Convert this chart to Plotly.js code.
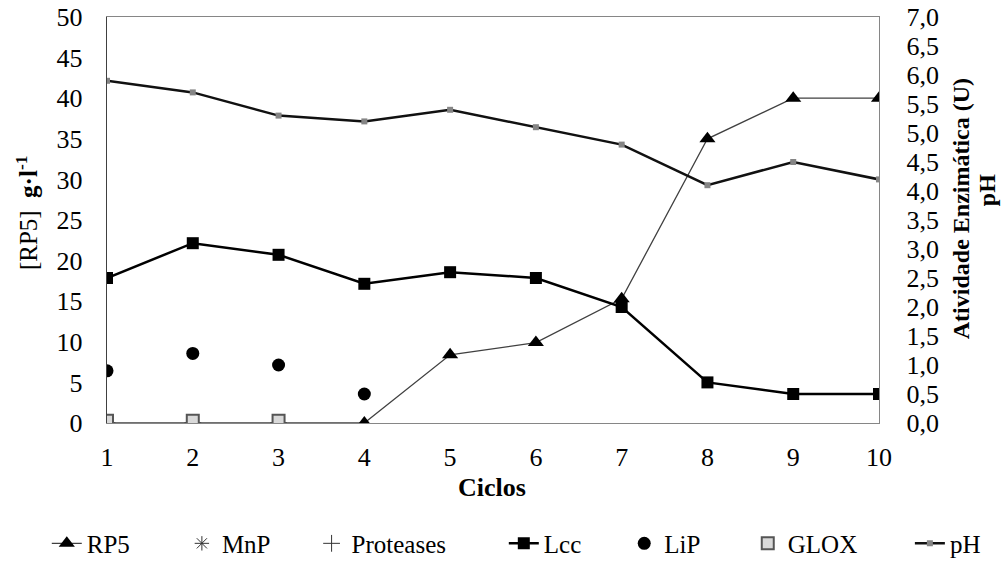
<!DOCTYPE html>
<html>
<head>
<meta charset="utf-8">
<script src="https://cdn.plot.ly/plotly-3.0.1.min.js"></script>
<style>html,body{margin:0;padding:0;background:#fff;}#chart{width:1005px;height:561px;}</style>
</head>
<body>
<div id="chart"></div>
<script>
// Cycle numbers
const ciclos = [1, 2, 3, 4, 5, 6, 7, 8, 9, 10];
// RP5 concentration (g/l), left axis
const rp5 = [0, 0, 0, 0, 8.4, 9.9, 15.3, 35, 40, 40];
// Enzyme activities (U), right axis
const ciclosZero = [1, 2, 3];
const mnp = [0, 0, 0];
const proteases = [0, 0, 0];
const lcc = [2.5, 3.1, 2.9, 2.4, 2.6, 2.5, 2.0, 0.7, 0.5, 0.5];
const ciclosLip = [1, 2, 3, 4];
const lip = [0.9, 1.2, 1.0, 0.5];
const glox = [0.04, 0.04, 0.04];
// pH, right axis
const ph = [5.9, 5.7, 5.3, 5.2, 5.4, 5.1, 4.8, 4.1, 4.5, 4.2];

const leftTicks = [0, 5, 10, 15, 20, 25, 30, 35, 40, 45, 50];
const rightTicks = [0, 0.5, 1, 1.5, 2, 2.5, 3, 3.5, 4, 4.5, 5, 5.5, 6, 6.5, 7];

const serif = 'Liberation Serif';
const legendY = -0.297;
const legendFont = {family: serif, size: 25, color: '#000'};
function legendAt(x) {
  return {orientation: 'h', x: x, xanchor: 'left', y: legendY, yanchor: 'middle',
          font: legendFont, bgcolor: 'rgba(0,0,0,0)', borderwidth: 0};
}
const tickFont = {family: serif, size: 26, color: '#000'};

const traces = [
  {x: ciclos, y: ph, name: 'pH', yaxis: 'y2', mode: 'lines+markers', legend: 'legend7',
   line: {color: '#111', width: 2.5}, marker: {symbol: 'square', size: 6, color: '#858585'}},
  {x: ciclos, y: lcc, name: 'Lcc', yaxis: 'y2', mode: 'lines+markers', legend: 'legend4',
   line: {color: '#000', width: 2.5}, marker: {symbol: 'square', size: 12, color: '#000'}},
  {x: ciclos, y: rp5, name: 'RP5', yaxis: 'y', mode: 'lines+markers', legend: 'legend',
   line: {color: '#404040', width: 1.3}, marker: {symbol: 'triangle-up', size: 14, color: '#000'}},
  {x: ciclosZero, y: mnp, name: 'MnP', yaxis: 'y2', mode: 'markers', legend: 'legend2',
   marker: {symbol: 'asterisk-open', size: 12, color: '#333', line: {color: '#333', width: 1}}},
  {x: ciclosZero, y: proteases, name: 'Proteases', yaxis: 'y2', mode: 'markers', legend: 'legend3',
   marker: {symbol: 'cross-thin-open', size: 12, color: '#333', line: {color: '#333', width: 1}}},
  {x: ciclosLip, y: lip, name: 'LiP', yaxis: 'y2', mode: 'markers', legend: 'legend5',
   marker: {symbol: 'circle', size: 13, color: '#000'}},
  {x: ciclosZero, y: glox, name: 'GLOX', yaxis: 'y2', mode: 'markers', legend: 'legend6',
   marker: {symbol: 'square', size: 12, color: '#d9d9d9', line: {color: '#555', width: 2}}}
];

const layout = {
  width: 1005, height: 561,
  margin: {l: 107, r: 126, t: 17, b: 138, autoexpand: false},
  paper_bgcolor: '#fff', plot_bgcolor: '#fff',
  separators: ',.',
  font: {family: serif, color: '#000', size: 26},
  showlegend: true,
  legend: legendAt(-0.078),
  legend2: legendAt(0.097),
  legend3: legendAt(0.265),
  legend4: legendAt(0.514),
  legend5: legendAt(0.670),
  legend6: legendAt(0.830),
  legend7: legendAt(1.040),
  xaxis: {range: [1, 10], tickvals: ciclos, ticktext: ciclos.map(String),
          showgrid: false, zeroline: false, showline: true, linecolor: '#868686', linewidth: 1.3,
          mirror: true, ticks: '', tickfont: tickFont, ticklabelstandoff: 10, fixedrange: true},
  yaxis: {range: [0, 50], tickvals: leftTicks, ticktext: leftTicks.map(String),
          showgrid: false, zeroline: false, showline: true, linecolor: '#404040', linewidth: 1.3,
          ticks: '', tickfont: tickFont, ticklabelstandoff: 18, fixedrange: true},
  yaxis2: {range: [0, 7], overlaying: 'y', side: 'right', tickvals: rightTicks,
           tickformat: '.1f', showgrid: false, zeroline: false, showline: true,
           linecolor: '#868686', linewidth: 1.3, ticks: '', tickfont: tickFont,
           ticklabelstandoff: 21, fixedrange: true},
  annotations: [
    {text: '[RP5]  <b>g·l<sup>-1</sup></b>', xref: 'paper', yref: 'paper', x: -0.1036, y: 0.517,
     xanchor: 'center', yanchor: 'middle', textangle: -90, showarrow: false,
     font: {family: serif, size: 25}},
    {text: '<b>Ciclos</b>', xref: 'paper', yref: 'paper', x: 0.4987, y: -0.1585,
     xanchor: 'center', yanchor: 'middle', showarrow: false, font: {family: serif, size: 26}},
    {text: '<b>Atividade Enzimática (U)</b>', xref: 'paper', yref: 'paper', x: 1.1062, y: 0.529,
     xanchor: 'center', yanchor: 'middle', textangle: -90, showarrow: false,
     font: {family: serif, size: 24}},
    {text: '<b>pH</b>', xref: 'paper', yref: 'paper', x: 1.140, y: 0.5736,
     xanchor: 'center', yanchor: 'middle', textangle: -90, showarrow: false,
     font: {family: serif, size: 24}}
  ]
};

Plotly.newPlot('chart', traces, layout, {displayModeBar: false, staticPlot: true});
</script>
</body>
</html>
